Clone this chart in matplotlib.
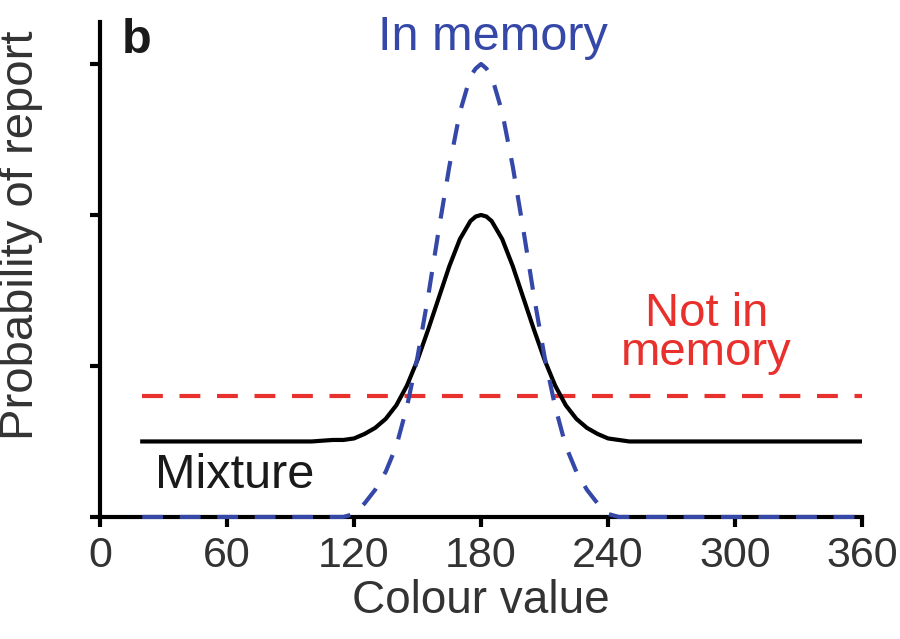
import matplotlib
matplotlib.use("Agg")
import matplotlib.pyplot as plt

plt.rcParams['font.family'] = ['Liberation Sans', 'DejaVu Sans']

# Data (arbitrary probability units; y ticks at 0..3)
x_pts = [20, 100, 110, 115, 120, 125, 130, 135, 140, 145, 150, 155, 160, 165, 170, 175, 177.5,
         180, 182.5, 185, 190, 195, 200, 205, 210, 215, 220, 225, 230, 235, 240, 245, 250, 260, 360]
in_memory = [0.0, 0.0, 0.0, 0.0, 0.02, 0.09, 0.18, 0.30, 0.47, 0.73, 1.06, 1.46, 1.90, 2.32, 2.68, 2.92, 2.97,
             3.0, 2.97, 2.92, 2.68, 2.32, 1.90, 1.46, 1.06, 0.73, 0.47, 0.30, 0.18, 0.09, 0.02, 0.0, 0.0, 0.0, 0.0]
mixture = [0.50, 0.50, 0.51, 0.51, 0.52, 0.55, 0.59, 0.65, 0.74, 0.87, 1.04, 1.24, 1.45, 1.66, 1.84, 1.96, 1.99,
           2.0, 1.99, 1.96, 1.84, 1.66, 1.45, 1.24, 1.04, 0.87, 0.74, 0.65, 0.59, 0.55, 0.52, 0.51, 0.50, 0.50, 0.50]
uniform_x = [20, 360]
not_in_memory = [0.80, 0.80]

x_ticks = [0, 60, 120, 180, 240, 300, 360]
y_ticks = [0, 1, 2, 3]

blue = '#3548a8'
red = '#e8302c'
grey = '#333333'

fig = plt.figure(figsize=(9, 6.39), dpi=100)
ax = fig.add_axes([0.111, 0.191, 0.847, 0.775])

ax.plot(uniform_x, not_in_memory, color=red, lw=3, dashes=(5, 4), zorder=3)
ax.plot(x_pts, mixture, color='black', lw=3, zorder=4, solid_joinstyle='round')
ax.plot(x_pts, in_memory, color=blue, lw=3, dashes=(5, 4), zorder=5, clip_on=False)

ax.set_xlim(0, 360)
ax.set_ylim(0, 3.28)
ax.set_xticks(x_ticks)
ax.set_yticks(y_ticks)
ax.set_yticklabels([])
for s in ['top', 'right']:
    ax.spines[s].set_visible(False)
for s in ['left', 'bottom']:
    ax.spines[s].set_linewidth(3)
ax.tick_params(axis='both', length=7, width=3, color='black', labelsize=31,
               labelcolor=grey, pad=7)

ax.set_xlabel('Colour value', fontsize=33, color=grey)
ax.xaxis.set_label_coords(0.5, -0.125)
ax.set_ylabel('Probability of report', fontsize=34, color=grey)
ax.yaxis.set_label_coords(-0.075, 0.568)

ax.text(10.4, 3.07, 'b', fontsize=35, fontweight='bold', color='#1a1a1a',
        ha='left', va='baseline')
ax.text(185.6, 3.09, 'In memory', fontsize=35, color=blue, ha='center', va='baseline')
ax.text(286.5, 1.007, 'Not in\nmemory', fontsize=34, color=red, ha='center', va='baseline',
        multialignment='center', linespacing=0.84)
ax.text(26, 0.19, 'Mixture', fontsize=35, color='#1a1a1a', ha='left', va='baseline')

fig.savefig('out.png', dpi=100)
